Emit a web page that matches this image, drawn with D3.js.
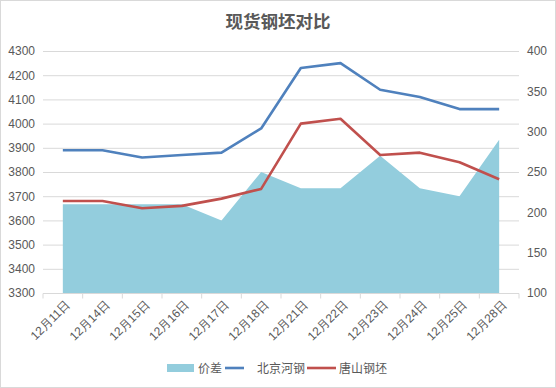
<!DOCTYPE html>
<html>
<head>
<meta charset="utf-8">
<script src="https://cdn.jsdelivr.net/npm/d3@7"></script>
<style>
  body { margin: 0; background: #fff; }
  svg { display: block; font-family: "Noto Sans CJK SC", "Noto Sans", sans-serif; }
</style>
</head>
<body>
<svg id="chart" width="556" height="388"></svg>
<script>
const dates = ['12月11日','12月14日','12月15日','12月16日','12月17日','12月18日','12月21日','12月22日','12月23日','12月24日','12月25日','12月28日']
const beijing = [3890,3890,3860,3870,3880,3980,4230,4250,4140,4110,4060,4060]
const tangshan = [3680,3680,3650,3660,3690,3730,4000,4020,3870,3880,3840,3770]
const spread = [210,210,210,210,190,250,230,230,270,230,220,290]
const leftTicks = [3300,3400,3500,3600,3700,3800,3900,4000,4100,4200,4300]
const rightTicks = [100,150,200,250,300,350,400]

const svg = d3.select('#chart')
const plotL = 43, plotR = 519, plotT = 51, plotB = 293
const grey = '#595959'

svg.append('rect')
    .attr('x', 0.5).attr('y', 0.5)
    .attr('width', 555).attr('height', 387)
    .attr('fill', '#fff').attr('stroke', '#d9d9d9')

const x = d3.scaleBand().domain(dates).range([plotL, plotR])
const yL = d3.scaleLinear().domain([3300, 4300]).range([plotB, plotT])
const yR = d3.scaleLinear().domain([100, 400]).range([plotB, plotT])
const cx = d => x(d) + x.bandwidth() / 2

// gridlines
svg.append('g').selectAll('line')
    .data(leftTicks.slice(1))
    .join('line')
        .attr('x1', plotL).attr('x2', plotR)
        .attr('y1', d => yL(d) + 0.5).attr('y2', d => yL(d) + 0.5)
        .attr('stroke', '#d9d9d9')

// area (right axis)
const area = d3.area()
    .x((d, i) => cx(dates[i]))
    .y0(yR(100))
    .y1(d => yR(d))
svg.append('path')
    .datum(spread)
    .attr('d', area)
    .attr('fill', '#93cddd')

const line = y => d3.line().x((d, i) => cx(dates[i])).y(d => y(d))
svg.append('path').datum(beijing)
    .attr('d', line(yL))
    .attr('fill', 'none').attr('stroke', '#4f81bd').attr('stroke-width', 2.6)
    .attr('stroke-linejoin', 'round')
svg.append('path').datum(tangshan)
    .attr('d', line(yL))
    .attr('fill', 'none').attr('stroke', '#c0504d').attr('stroke-width', 2.6)
    .attr('stroke-linejoin', 'round')

// axes
const xAxis = d3.axisBottom(x).tickSize(5).tickSizeOuter(0)
const xg = svg.append('g').attr('transform', `translate(0,${plotB + 0.5})`).call(xAxis)
xg.select('.domain').attr('stroke', '#d9d9d9').attr('d', `M${plotL},0H${plotR}`)
xg.selectAll('.tick line').attr('stroke', '#d9d9d9').attr('transform', `translate(${-x.bandwidth() / 2},0)`)
xg.append('line').attr('x1', plotR).attr('x2', plotR).attr('y1', 0).attr('y2', 5).attr('stroke', '#d9d9d9')
xg.selectAll('.tick text')
    .attr('fill', grey).attr('font-size', 12)
    .attr('text-anchor', 'end')
    .attr('transform', 'translate(5,9) rotate(-45)')
    .attr('dy', '0.35em').attr('y', 0).attr('x', 0)

const yAxisL = d3.axisLeft(yL).tickValues(leftTicks).tickFormat(d3.format('d')).tickSize(0).tickPadding(8)
const ylg = svg.append('g').attr('transform', `translate(${plotL},0)`).call(yAxisL)
ylg.select('.domain').remove()
ylg.selectAll('text').attr('fill', grey).attr('font-size', 12).attr('font-family', 'Liberation Sans, Arial, sans-serif')

const yAxisR = d3.axisRight(yR).tickValues(rightTicks).tickSize(0).tickPadding(8)
const yrg = svg.append('g').attr('transform', `translate(${plotR},0)`).call(yAxisR)
yrg.select('.domain').remove()
yrg.selectAll('text').attr('fill', grey).attr('font-size', 12).attr('font-family', 'Liberation Sans, Arial, sans-serif')

// title
svg.append('text')
    .attr('x', 278).attr('y', 28)
    .attr('text-anchor', 'middle')
    .attr('font-size', 17.5).attr('font-weight', 'bold')
    .attr('fill', grey)
    .text('现货钢坯对比')

// legend
const lg = svg.append('g').attr('transform', 'translate(0,368)')
lg.append('rect').attr('x', 167).attr('y', -4).attr('width', 27).attr('height', 8).attr('fill', '#93cddd')
lg.append('text').attr('x', 198).attr('y', 4.5).attr('font-size', 12).attr('fill', grey).text('价差')
lg.append('line').attr('x1', 225).attr('x2', 244).attr('y1', 0).attr('y2', 0).attr('stroke', '#4f81bd').attr('stroke-width', 2.6)
lg.append('text').attr('x', 257).attr('y', 4.5).attr('font-size', 12).attr('fill', grey).text('北京河钢')
lg.append('line').attr('x1', 307).attr('x2', 336).attr('y1', 0).attr('y2', 0).attr('stroke', '#c0504d').attr('stroke-width', 2.6)
lg.append('text').attr('x', 339).attr('y', 4.5).attr('font-size', 12).attr('fill', grey).text('唐山钢坯')
</script>
</body>
</html>
